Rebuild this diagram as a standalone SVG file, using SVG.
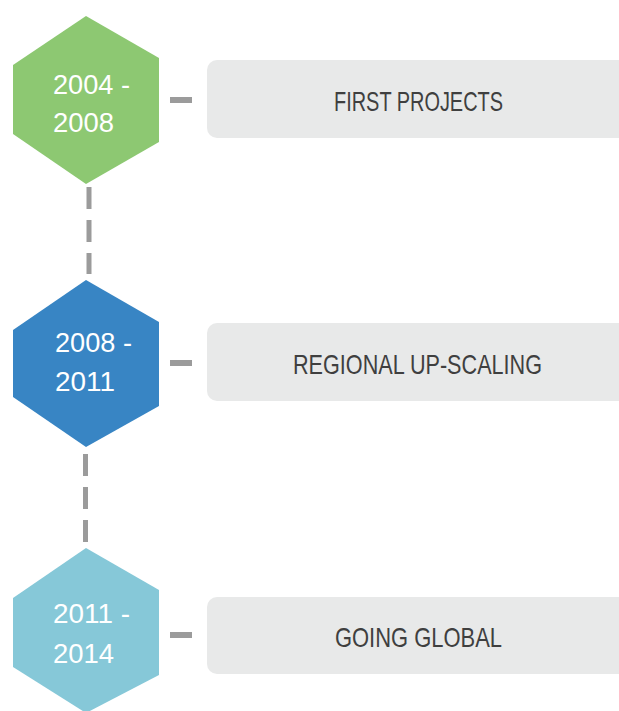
<svg xmlns="http://www.w3.org/2000/svg" width="619" height="711" viewBox="0 0 619 711">
<style>
.yr{font-family:"Liberation Sans","DejaVu Sans",sans-serif;font-size:27px;fill:#ffffff}
.lbl{font-family:"Liberation Sans","DejaVu Sans",sans-serif;font-size:28px;fill:#3f3f3f;text-anchor:middle}
.box{fill:#e8e9e9}
.dash{fill:#9b9b9b}
</style>
<rect width="619" height="711" fill="#ffffff"/>
<g id="connectors">
<rect class="dash" x="170" y="97" width="22" height="6"/>
<rect class="dash" x="170" y="360" width="22" height="6"/>
<rect class="dash" x="170" y="632" width="22" height="6"/>
<rect class="dash" x="86.5" y="187" width="5" height="22"/>
<rect class="dash" x="86.5" y="220" width="5" height="22"/>
<rect class="dash" x="86.5" y="253" width="5" height="21"/>
<rect class="dash" x="83" y="454" width="5" height="22"/>
<rect class="dash" x="83" y="487" width="5" height="22"/>
<rect class="dash" x="83" y="520" width="5" height="22"/>
</g>
<g id="node-2004">
<polygon points="86,16 159,58 159,142 86,184 13,134 13,65" fill="#8dc872"/>
<text class="yr" x="53" y="94" textLength="77" lengthAdjust="spacingAndGlyphs">2004 -</text>
<text class="yr" x="53" y="132" textLength="61" lengthAdjust="spacingAndGlyphs">2008</text>
</g>
<g id="node-first">
<rect class="box" x="207" y="60" width="430" height="78" rx="10"/>
<text class="lbl" x="418.5" y="111" textLength="169" lengthAdjust="spacingAndGlyphs">FIRST PROJECTS</text>
</g>
<g id="node-2008">
<polygon points="86,280 159,322 159,406 86,447 13,397 13,330" fill="#3885c4"/>
<text class="yr" x="55" y="352" textLength="77" lengthAdjust="spacingAndGlyphs">2008 -</text>
<text class="yr" x="55" y="391" textLength="60" lengthAdjust="spacingAndGlyphs">2011</text>
</g>
<g id="node-regional">
<rect class="box" x="207" y="323" width="430" height="78" rx="10"/>
<text class="lbl" x="417.5" y="374" textLength="249" lengthAdjust="spacingAndGlyphs">REGIONAL UP-SCALING</text>
</g>
<g id="node-2011">
<polygon points="86,548 159,590 159,675 86,713 13,667 13,598" fill="#86c8d8"/>
<text class="yr" x="53" y="623" textLength="77" lengthAdjust="spacingAndGlyphs">2011 -</text>
<text class="yr" x="53" y="663" textLength="61" lengthAdjust="spacingAndGlyphs">2014</text>
</g>
<g id="node-global">
<rect class="box" x="207" y="597" width="430" height="77" rx="10"/>
<text class="lbl" x="418.5" y="647" textLength="167" lengthAdjust="spacingAndGlyphs">GOING GLOBAL</text>
</g>
</svg>
